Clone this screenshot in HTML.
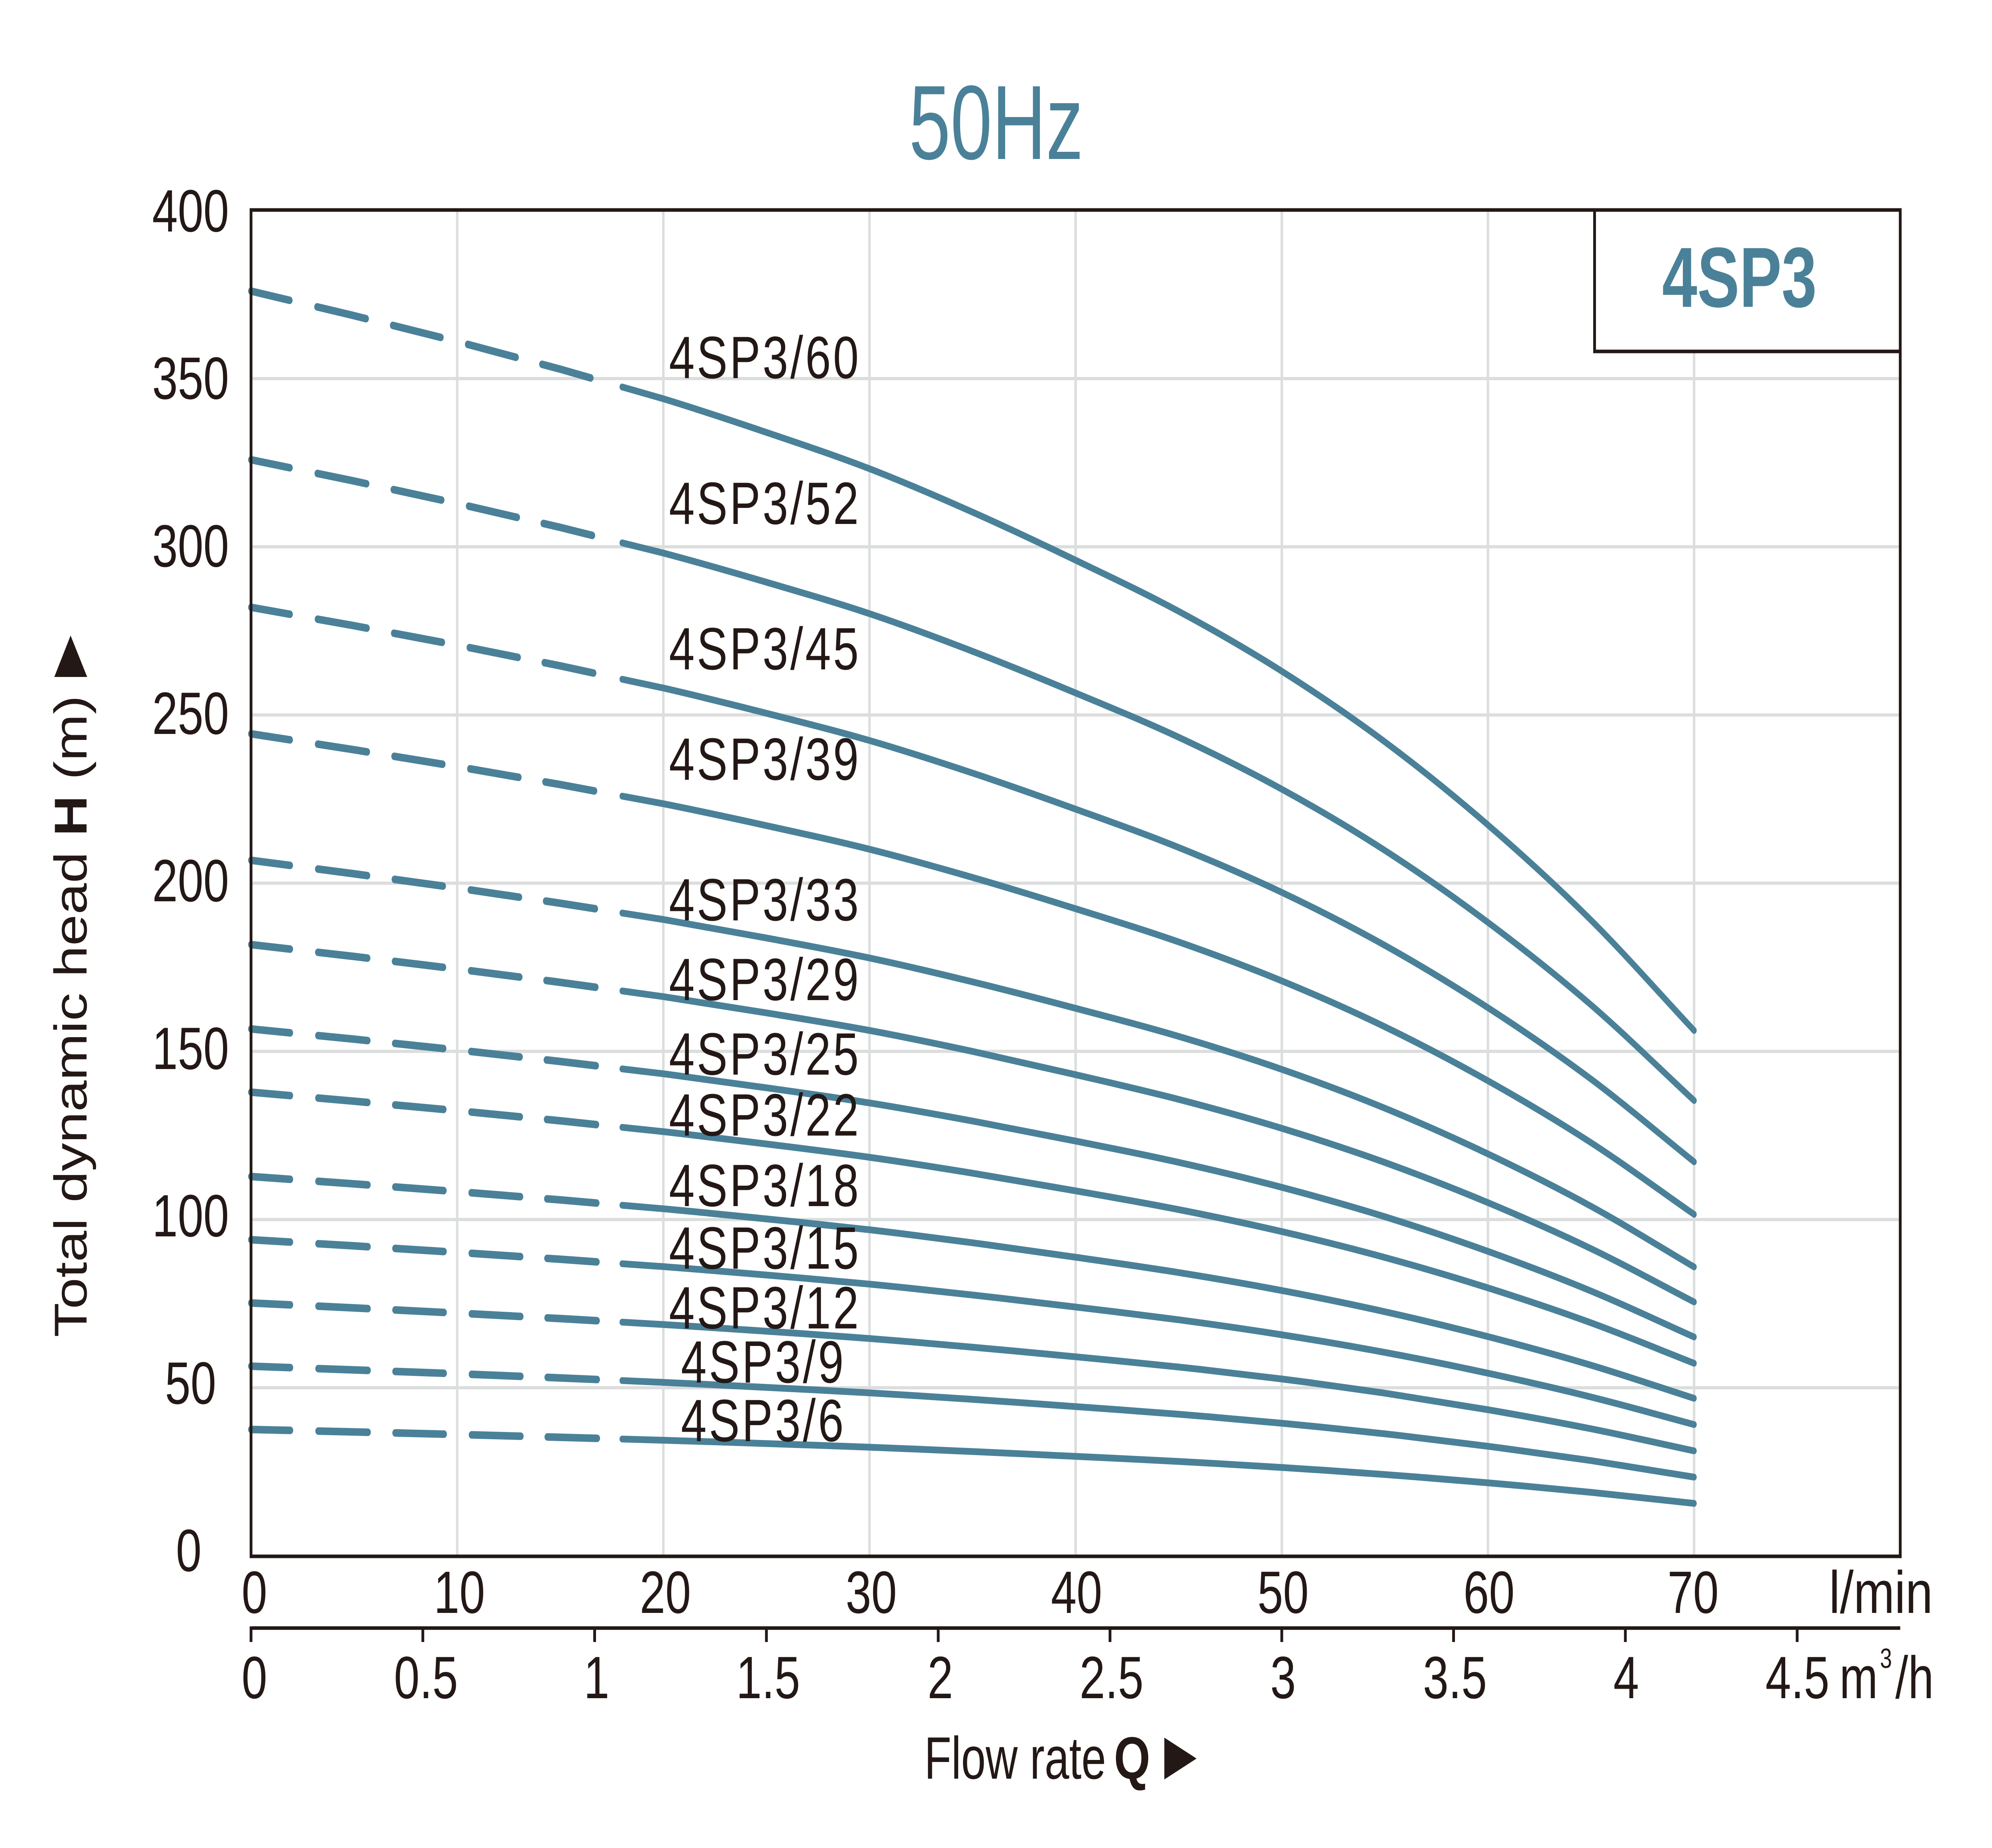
<!DOCTYPE html>
<html>
<head>
<meta charset="utf-8">
<style>
html,body{margin:0;padding:0;width:100%;height:100%;overflow:hidden;background:#ffffff;}
svg{display:block;width:100vw;height:100vh;}
.d{fill:none;stroke:#4a8198;stroke-width:19;stroke-linecap:round;stroke-linejoin:round;stroke-dasharray:128 91 162 89 159 90 160 87 162 400;}
.s{fill:none;stroke:#4a8198;stroke-width:17;stroke-linecap:round;stroke-linejoin:round;}
.g{stroke:#dcdddd;stroke-width:8;fill:none;}
.k{stroke:#231815;stroke-width:9;fill:none;}
.t{font-family:"Liberation Sans",Arial,sans-serif;font-size:150px;fill:#231815;}
.tm{text-anchor:middle;}
</style>
</head>
<body>
<svg xmlns="http://www.w3.org/2000/svg" viewBox="0 0 6491 4638" preserveAspectRatio="none">
<rect x="0" y="0" width="6491" height="4638" fill="#ffffff"/>

<text x="2962" y="399" font-family="'Liberation Sans',Arial,sans-serif" font-size="265" fill="#4a8198" textLength="568" lengthAdjust="spacingAndGlyphs">50Hz</text>

<g class="g">
<line x1="1489.75" y1="527" x2="1489.75" y2="3906"/>
<line x1="2161.5" y1="527" x2="2161.5" y2="3906"/>
<line x1="2833.25" y1="527" x2="2833.25" y2="3906"/>
<line x1="3505" y1="527" x2="3505" y2="3906"/>
<line x1="4176.75" y1="527" x2="4176.75" y2="3906"/>
<line x1="4848.5" y1="527" x2="4848.5" y2="3906"/>
<line x1="5520.25" y1="527" x2="5520.25" y2="3906"/>
<line x1="818" y1="950.1" x2="6192" y2="950.1"/>
<line x1="818" y1="1372.3" x2="6192" y2="1372.3"/>
<line x1="818" y1="1794.4" x2="6192" y2="1794.4"/>
<line x1="818" y1="2216.5" x2="6192" y2="2216.5"/>
<line x1="818" y1="2638.6" x2="6192" y2="2638.6"/>
<line x1="818" y1="3060.8" x2="6192" y2="3060.8"/>
<line x1="818" y1="3482.9" x2="6192" y2="3482.9"/>
</g>

<rect x="5196" y="527" width="996" height="355" fill="#ffffff"/>

<!-- 4SP3/60 -->
<polyline class="d" points="818,730.6 1153.9,792.3 1489.8,857.2 1825.6,926.5 2027.2,971.2"/>
<path class="s" d="M2027.2,971.2 L2161.5,1000.8 C2273.5,1027.25 2385.4,1055.93 2497.4,1085.2 C2609.4,1114.47 2721.3,1143.05 2833.3,1176.4 C2945.3,1209.75 3057.1,1247.03 3169.1,1285.3 C3281.1,1323.57 3393,1364.49 3505,1406 C3617,1447.51 3728.9,1487.86 3840.9,1534.3 C3952.9,1580.74 4064.8,1630 4176.8,1684.6 C4288.8,1739.2 4400.6,1797.6 4512.6,1861.9 C4624.6,1926.2 4736.5,1995.83 4848.5,2070.4 C4960.5,2144.97 5072.4,2223.43 5184.4,2309.4 C5296.4,2395.37 5408.3,2494 5520.3,2586.3"/>
<!-- 4SP3/52 -->
<polyline class="d" points="818,1153.9 1153.9,1207.3 1489.8,1263.6 1825.6,1323.6 2027.2,1362.4"/>
<path class="s" d="M2027.2,1362.4 L2161.5,1388 C2273.5,1410.92 2385.4,1435.83 2497.4,1461.2 C2609.4,1486.57 2721.3,1511.3 2833.3,1540.2 C2945.3,1569.1 3057.1,1601.43 3169.1,1634.6 C3281.1,1667.77 3393,1703.23 3505,1739.2 C3617,1775.17 3728.9,1810.15 3840.9,1850.4 C3952.9,1890.65 4064.8,1933.38 4176.8,1980.7 C4288.8,2028.02 4400.6,2078.57 4512.6,2134.3 C4624.6,2190.03 4736.5,2250.37 4848.5,2315 C4960.5,2379.63 5072.4,2447.59 5184.4,2522.1 C5296.4,2596.61 5408.3,2682.11 5520.3,2762.1"/>
<!-- 4SP3/45 -->
<polyline class="d" points="818,1524.2 1153.9,1570.4 1489.8,1619.2 1825.6,1671.1 2027.2,1704.7"/>
<path class="s" d="M2027.2,1704.7 L2161.5,1726.8 C2273.5,1746.64 2385.4,1768.15 2497.4,1790.1 C2609.4,1812.05 2721.3,1833.49 2833.3,1858.5 C2945.3,1883.51 3057.1,1911.5 3169.1,1940.2 C3281.1,1968.9 3393,1999.67 3505,2030.8 C3617,2061.93 3728.9,2092.17 3840.9,2127 C3952.9,2161.83 4064.8,2198.75 4176.8,2239.7 C4288.8,2280.65 4400.6,2324.47 4512.6,2372.7 C4624.6,2420.93 4736.5,2473.17 4848.5,2529.1 C4960.5,2585.03 5072.4,2643.82 5184.4,2708.3 C5296.4,2772.78 5408.3,2846.68 5520.3,2915.9"/>
<!-- 4SP3/39 -->
<polyline class="d" points="818,1841.7 1153.9,1881.7 1489.8,1924.0 1825.6,1969.0 2027.2,1998.1"/>
<path class="s" d="M2027.2,1998.1 L2161.5,2017.2 C2273.5,2034.39 2385.4,2053.08 2497.4,2072.1 C2609.4,2091.12 2721.3,2109.72 2833.3,2131.4 C2945.3,2153.08 3057.1,2177.33 3169.1,2202.2 C3281.1,2227.07 3393,2253.72 3505,2280.7 C3617,2307.68 3728.9,2333.91 3840.9,2364.1 C3952.9,2394.29 4064.8,2426.31 4176.8,2461.8 C4288.8,2497.29 4400.6,2535.2 4512.6,2577 C4624.6,2618.8 4736.5,2664.03 4848.5,2712.5 C4960.5,2760.97 5072.4,2811.92 5184.4,2867.8 C5296.4,2923.68 5408.3,2987.81 5520.3,3047.8"/>
<!-- 4SP3/33 -->
<polyline class="d" points="818,2159.1 1153.9,2193.0 1489.8,2228.7 1825.6,2266.8 2027.2,2291.4"/>
<path class="s" d="M2027.2,2291.4 L2161.5,2307.7 C2273.5,2322.25 2385.4,2338 2497.4,2354.1 C2609.4,2370.2 2721.3,2385.96 2833.3,2404.3 C2945.3,2422.64 3057.1,2443.15 3169.1,2464.2 C3281.1,2485.25 3393,2507.77 3505,2530.6 C3617,2553.43 3728.9,2575.56 3840.9,2601.1 C3952.9,2626.64 4064.8,2653.77 4176.8,2683.8 C4288.8,2713.83 4400.6,2745.93 4512.6,2781.3 C4624.6,2816.67 4736.5,2854.99 4848.5,2896 C4960.5,2937.01 5072.4,2980.12 5184.4,3027.4 C5296.4,3074.68 5408.3,3128.94 5520.3,3179.7"/>
<!-- 4SP3/29 -->
<polyline class="d" points="818,2370.7 1153.9,2400.5 1489.8,2431.9 1825.6,2465.4 2027.2,2487.0"/>
<path class="s" d="M2027.2,2487 L2161.5,2501.3 C2273.5,2514.08 2385.4,2527.95 2497.4,2542.1 C2609.4,2556.25 2721.3,2570.08 2833.3,2586.2 C2945.3,2602.32 3057.1,2620.3 3169.1,2638.8 C3281.1,2657.3 3393,2677.14 3505,2697.2 C3617,2717.26 3728.9,2736.75 3840.9,2759.2 C3952.9,2781.65 4064.8,2805.41 4176.8,2831.8 C4288.8,2858.19 4400.6,2886.42 4512.6,2917.5 C4624.6,2948.58 4736.5,2982.26 4848.5,3018.3 C4960.5,3054.34 5072.4,3092.25 5184.4,3133.8 C5296.4,3175.35 5408.3,3222.99 5520.3,3267.6"/>
<!-- 4SP3/25 -->
<polyline class="d" points="818,2582.4 1153.9,2608.0 1489.8,2635.1 1825.6,2664.0 2027.2,2682.6"/>
<path class="s" d="M2027.2,2682.6 L2161.5,2694.9 C2273.5,2705.92 2385.4,2717.9 2497.4,2730.1 C2609.4,2742.3 2721.3,2754.2 2833.3,2768.1 C2945.3,2782 3057.1,2797.55 3169.1,2813.5 C3281.1,2829.45 3393,2846.5 3505,2863.8 C3617,2881.1 3728.9,2897.85 3840.9,2917.2 C3952.9,2936.55 4064.8,2957.15 4176.8,2979.9 C4288.8,3002.65 4400.6,3026.91 4512.6,3053.7 C4624.6,3080.49 4736.5,3109.53 4848.5,3140.6 C4960.5,3171.67 5072.4,3204.38 5184.4,3240.2 C5296.4,3276.02 5408.3,3317.04 5520.3,3355.5"/>
<!-- 4SP3/22 -->
<polyline class="d" points="818,2741.1 1153.9,2763.7 1489.8,2787.5 1825.6,2812.9 2027.2,2829.3"/>
<path class="s" d="M2027.2,2829.3 L2161.5,2840.1 C2273.5,2849.8 2385.4,2860.37 2497.4,2871.1 C2609.4,2881.83 2721.3,2892.27 2833.3,2904.5 C2945.3,2916.73 3057.1,2930.37 3169.1,2944.4 C3281.1,2958.43 3393,2973.48 3505,2988.7 C3617,3003.92 3728.9,3018.77 3840.9,3035.8 C3952.9,3052.83 4064.8,3070.88 4176.8,3090.9 C4288.8,3110.92 4400.6,3132.32 4512.6,3155.9 C4624.6,3179.48 4736.5,3204.96 4848.5,3232.3 C4960.5,3259.64 5072.4,3288.38 5184.4,3319.9 C5296.4,3351.42 5408.3,3387.66 5520.3,3421.5"/>
<!-- 4SP3/18 -->
<polyline class="d" points="818,2952.7 1153.9,2971.2 1489.8,2990.7 1825.6,3011.4 2027.2,3024.9"/>
<path class="s" d="M2027.2,3024.9 L2161.5,3033.7 C2273.5,3041.63 2385.4,3050.32 2497.4,3059.1 C2609.4,3067.88 2721.3,3076.4 2833.3,3086.4 C2945.3,3096.4 3057.1,3107.62 3169.1,3119.1 C3281.1,3130.58 3393,3142.85 3505,3155.3 C3617,3167.75 3728.9,3179.87 3840.9,3193.8 C3952.9,3207.73 4064.8,3222.52 4176.8,3238.9 C4288.8,3255.28 4400.6,3272.81 4512.6,3292.1 C4624.6,3311.39 4736.5,3332.23 4848.5,3354.6 C4960.5,3376.97 5072.4,3400.51 5184.4,3426.3 C5296.4,3452.09 5408.3,3481.71 5520.3,3509.4"/>
<!-- 4SP3/15 -->
<polyline class="d" points="818,3111.4 1153.9,3126.8 1489.8,3143.1 1825.6,3160.4 2027.2,3171.6"/>
<path class="s" d="M2027.2,3171.6 L2161.5,3178.9 C2273.5,3185.51 2385.4,3192.68 2497.4,3200 C2609.4,3207.32 2721.3,3214.46 2833.3,3222.8 C2945.3,3231.14 3057.1,3240.53 3169.1,3250.1 C3281.1,3259.67 3393,3269.92 3505,3280.3 C3617,3290.68 3728.9,3300.69 3840.9,3312.3 C3952.9,3323.91 4064.8,3336.25 4176.8,3349.9 C4288.8,3363.55 4400.6,3378.12 4512.6,3394.2 C4624.6,3410.28 4736.5,3427.76 4848.5,3446.4 C4960.5,3465.04 5072.4,3484.61 5184.4,3506.1 C5296.4,3527.59 5408.3,3552.23 5520.3,3575.3"/>
<!-- 4SP3/12 -->
<polyline class="d" points="818,3270.1 1153.9,3282.5 1489.8,3295.5 1825.6,3309.3 2027.2,3318.2"/>
<path class="s" d="M2027.2,3318.2 L2161.5,3324.2 C2273.5,3329.49 2385.4,3335.15 2497.4,3341 C2609.4,3346.85 2721.3,3352.63 2833.3,3359.3 C2945.3,3365.97 3057.1,3373.45 3169.1,3381.1 C3281.1,3388.75 3393,3396.9 3505,3405.2 C3617,3413.5 3728.9,3421.61 3840.9,3430.9 C3952.9,3440.19 4064.8,3449.98 4176.8,3460.9 C4288.8,3471.82 4400.6,3483.54 4512.6,3496.4 C4624.6,3509.26 4736.5,3523.19 4848.5,3538.1 C4960.5,3553.01 5072.4,3568.71 5184.4,3585.9 C5296.4,3603.09 5408.3,3622.84 5520.3,3641.3"/>
<!-- 4SP3/9 -->
<polyline class="d" points="818,3428.8 1153.9,3438.1 1489.8,3447.8 1825.6,3458.2 2027.2,3464.9"/>
<path class="s" d="M2027.2,3464.9 L2161.5,3469.4 C2273.5,3473.37 2385.4,3477.61 2497.4,3482 C2609.4,3486.39 2721.3,3490.7 2833.3,3495.7 C2945.3,3500.7 3057.1,3506.26 3169.1,3512 C3281.1,3517.74 3393,3523.97 3505,3530.2 C3617,3536.43 3728.9,3542.43 3840.9,3549.4 C3952.9,3556.37 4064.8,3563.81 4176.8,3572 C4288.8,3580.19 4400.6,3588.85 4512.6,3598.5 C4624.6,3608.15 4736.5,3618.61 4848.5,3629.8 C4960.5,3640.99 5072.4,3652.8 5184.4,3665.7 C5296.4,3678.6 5408.3,3693.36 5520.3,3707.2"/>
<!-- 4SP3/6 -->
<polyline class="d" points="818,3587.6 1153.9,3593.7 1489.8,3600.2 1825.6,3607.2 2027.2,3611.6"/>
<path class="s" d="M2027.2,3611.6 L2161.5,3614.6 C2273.5,3617.24 2385.4,3620.07 2497.4,3623 C2609.4,3625.93 2721.3,3628.77 2833.3,3632.1 C2945.3,3635.43 3057.1,3639.17 3169.1,3643 C3281.1,3646.83 3393,3650.95 3505,3655.1 C3617,3659.25 3728.9,3663.26 3840.9,3667.9 C3952.9,3672.54 4064.8,3677.54 4176.8,3683 C4288.8,3688.46 4400.6,3694.27 4512.6,3700.7 C4624.6,3707.13 4736.5,3714.04 4848.5,3721.5 C4960.5,3728.96 5072.4,3736.8 5184.4,3745.4 C5296.4,3754 5408.3,3763.87 5520.3,3773.1"/>

<rect class="k" x="818" y="527" width="5374" height="3379"/>
<polyline class="k" points="5196,527 5196,882 6192,882"/>
<text x="5416" y="770" font-family="'Liberation Sans',Arial,sans-serif" font-size="214" font-weight="bold" fill="#4a8198" textLength="504" lengthAdjust="spacingAndGlyphs">4SP3</text>

<g class="t">
<text x="2180" y="949" textLength="618" lengthAdjust="spacing">4SP3/60</text>
<text x="2180" y="1315" textLength="618" lengthAdjust="spacing">4SP3/52</text>
<text x="2180" y="1680" textLength="618" lengthAdjust="spacing">4SP3/45</text>
<text x="2180" y="1957" textLength="618" lengthAdjust="spacing">4SP3/39</text>
<text x="2180" y="2310" textLength="618" lengthAdjust="spacing">4SP3/33</text>
<text x="2180" y="2510" textLength="618" lengthAdjust="spacing">4SP3/29</text>
<text x="2180" y="2697" textLength="618" lengthAdjust="spacing">4SP3/25</text>
<text x="2180" y="2850" textLength="618" lengthAdjust="spacing">4SP3/22</text>
<text x="2180" y="3027" textLength="618" lengthAdjust="spacing">4SP3/18</text>
<text x="2180" y="3184" textLength="618" lengthAdjust="spacing">4SP3/15</text>
<text x="2180" y="3334" textLength="618" lengthAdjust="spacing">4SP3/12</text>
<text x="2219" y="3470" textLength="530" lengthAdjust="spacing">4SP3/9</text>
<text x="2219" y="3617" textLength="530" lengthAdjust="spacing">4SP3/6</text>
</g>

<g class="t tm">
<text x="621" y="581">400</text>
<text x="621" y="1001">350</text>
<text x="621" y="1422">300</text>
<text x="621" y="1842">250</text>
<text x="621" y="2262">200</text>
<text x="621" y="2683">150</text>
<text x="621" y="3103">100</text>
<text x="621" y="3523">50</text>
<text x="615" y="3943">0</text>
</g>

<g class="t tm">
<text x="829" y="4048">0</text>
<text x="1497" y="4048">10</text>
<text x="2168" y="4048">20</text>
<text x="2839" y="4048">30</text>
<text x="3508" y="4048">40</text>
<text x="4181" y="4048">50</text>
<text x="4852" y="4048">60</text>
<text x="5517" y="4048">70</text>
</g>
<text class="t" x="5960" y="4048" textLength="338" lengthAdjust="spacingAndGlyphs">l/min</text>

<line class="k" x1="818" y1="4086" x2="6192" y2="4086"/>
<g class="k">
<line x1="818" y1="4082" x2="818" y2="4121"/>
<line x1="1377.8" y1="4082" x2="1377.8" y2="4121"/>
<line x1="1937.6" y1="4082" x2="1937.6" y2="4121"/>
<line x1="2497.4" y1="4082" x2="2497.4" y2="4121"/>
<line x1="3057.2" y1="4082" x2="3057.2" y2="4121"/>
<line x1="3617" y1="4082" x2="3617" y2="4121"/>
<line x1="4176.7" y1="4082" x2="4176.7" y2="4121"/>
<line x1="4736.5" y1="4082" x2="4736.5" y2="4121"/>
<line x1="5296.3" y1="4082" x2="5296.3" y2="4121"/>
<line x1="5856.1" y1="4082" x2="5856.1" y2="4121"/>
</g>
<g class="t tm">
<text x="829" y="4262">0</text>
<text x="1388" y="4262">0.5</text>
<text x="1944" y="4262">1</text>
<text x="2503" y="4262">1.5</text>
<text x="3064" y="4262">2</text>
<text x="3622" y="4262">2.5</text>
<text x="4181" y="4262">3</text>
<text x="4741" y="4262">3.5</text>
<text x="5299" y="4262">4</text>
<text x="5857" y="4262">4.5</text>
</g>
<text class="t" x="5994" y="4262">m</text>
<text x="6126" y="4186" font-family="'Liberation Sans',Arial,sans-serif" font-size="70" fill="#231815">3</text>
<text class="t" x="6176" y="4262">/h</text>

<text class="t" x="3012" y="4464" textLength="592" lengthAdjust="spacingAndGlyphs">Flow rate</text>
<text class="t" x="3630" y="4464" font-weight="bold" textLength="118" lengthAdjust="spacingAndGlyphs">Q</text>
<polygon points="3794,4361 3794,4466 3899,4413.5" fill="#231815"/>

<text class="t" transform="translate(282,3356) rotate(-90) scale(0.9426,1)">Total dynamic head <tspan font-weight="bold">H</tspan> (m)</text>
<polygon points="230,1595 177,1699 284,1699" fill="#231815"/>
</svg>
</body>
</html>
